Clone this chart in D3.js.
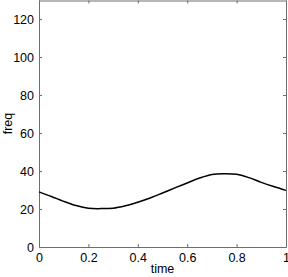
<!DOCTYPE html>
<html><head><meta charset="utf-8">
<script src="https://cdn.jsdelivr.net/npm/d3@7"></script>
<style>body{margin:0;background:#fff}svg{display:block}text{font-family:"Liberation Sans",Arial,sans-serif}</style>
</head><body>
<script>
const time = [0,0.05,0.1,0.15,0.2,0.25,0.3,0.35,0.4,0.45,0.5,0.55,0.6,0.65,0.7,0.75,0.8,0.85,0.9,0.95,1];
const freq = [29,26.6,24,21.8,20.4,20.2,20.4,21.7,23.6,25.8,28.4,31.1,33.7,36.3,38.2,38.6,38.3,36.5,34,31.8,29.8];
const xTicks = [0,0.2,0.4,0.6,0.8,1];
const yTicks = [0,20,40,60,80,100,120];
const xLabel = "time", yLabel = "freq";

const W=288,H=277;
const m={l:39,r:2,t:0,b:30};
const svg=d3.select("body").append("svg").attr("width",W).attr("height",H);
const x=d3.scaleLinear().domain([0,1]).range([m.l,W-m.r]);
const y=d3.scaleLinear().domain([0,130]).range([H-m.b,m.t]);
const axc="#6e6e6e";
const fmt=d=>String(d);

const gb=svg.append("g").attr("transform",`translate(0,${H-m.b})`).call(d3.axisBottom(x).tickValues(xTicks).tickFormat(fmt).tickSizeInner(-3).tickSizeOuter(0).tickPadding(6));
const gl=svg.append("g").attr("transform",`translate(${m.l},0)`).call(d3.axisLeft(y).tickValues(yTicks).tickFormat(fmt).tickSizeInner(-3).tickSizeOuter(0).tickPadding(5));
const gt=svg.append("g").attr("transform",`translate(0,${m.t+0.5})`).call(d3.axisTop(x).tickValues(xTicks).tickFormat("").tickSizeInner(-3).tickSizeOuter(0));
const gr=svg.append("g").attr("transform",`translate(${W-m.r},0)`).call(d3.axisRight(y).tickValues(yTicks).tickFormat("").tickSizeInner(-3).tickSizeOuter(0));
[gb,gl,gt,gr].forEach(g=>{g.selectAll("path,line").attr("stroke",axc);g.selectAll("text").attr("fill","#000").attr("font-size",12.5);});

svg.append("path").datum(time.map((t,i)=>[t,freq[i]]))
 .attr("fill","none").attr("stroke","#000").attr("stroke-width",1.5)
 .attr("d",d3.line().x(d=>x(d[0])).y(d=>y(d[1])).curve(d3.curveCatmullRom));

svg.append("text").attr("x",(m.l+W-m.r)/2).attr("y",273).attr("text-anchor","middle").attr("font-size",12.5).text(xLabel);
svg.append("text").attr("transform",`translate(12,${(m.t+H-m.b)/2}) rotate(-90)`).attr("text-anchor","middle").attr("font-size",12.5).text(yLabel);
</script>
</body></html>
